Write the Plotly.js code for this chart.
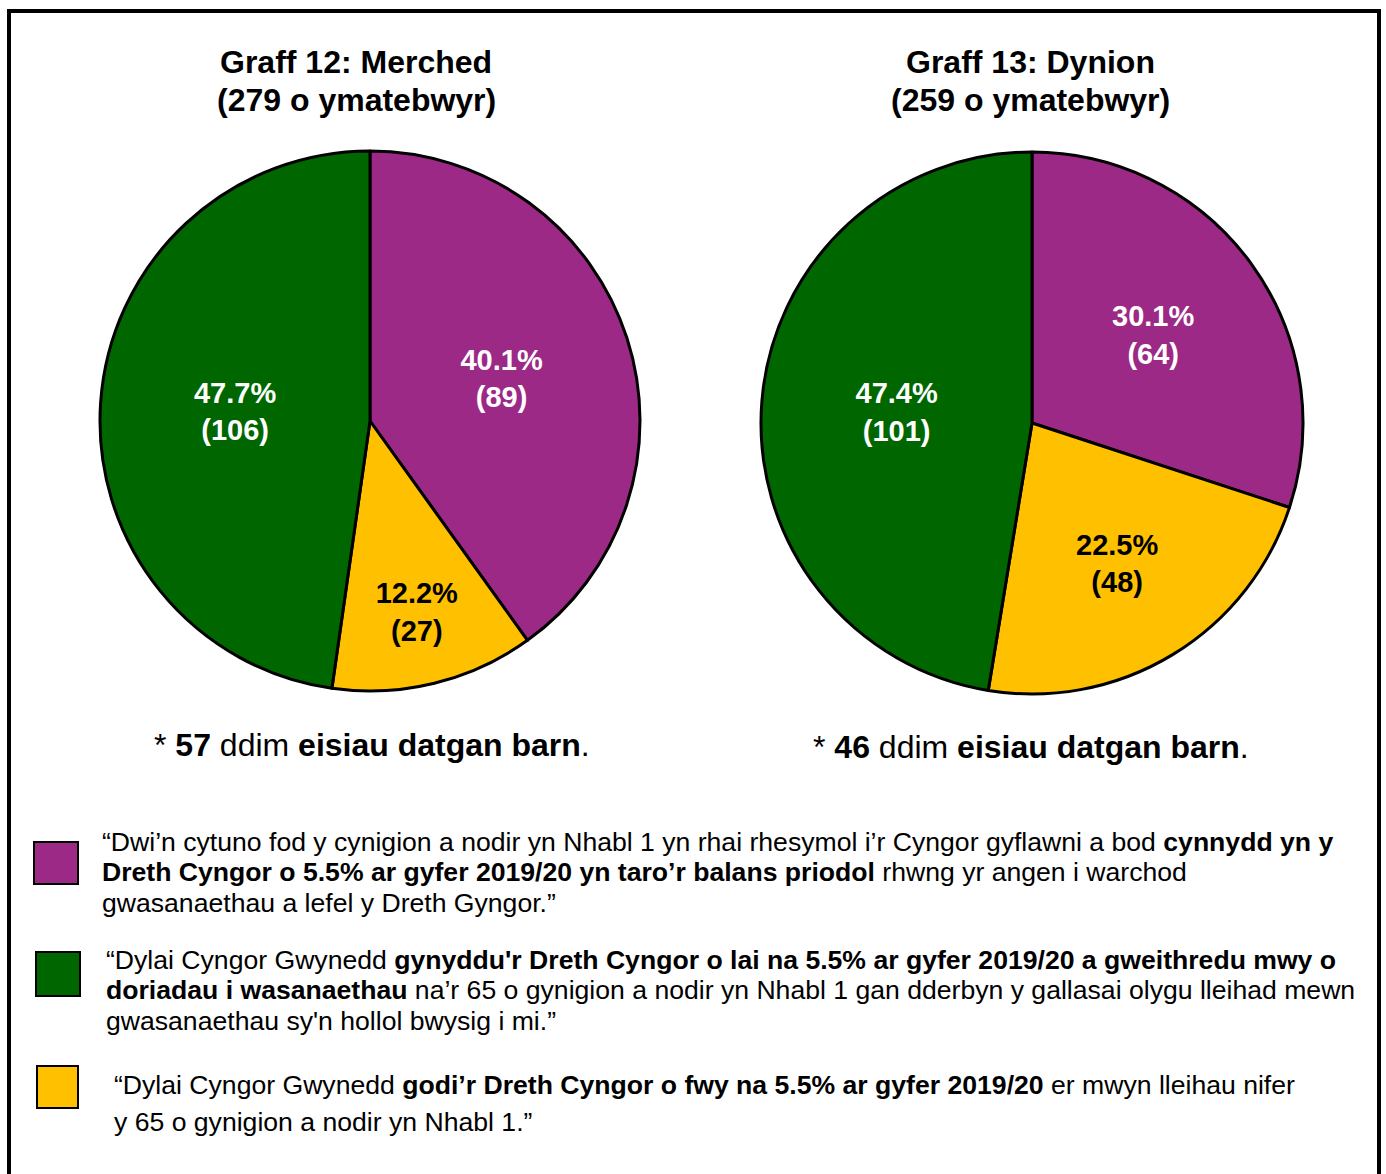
<!DOCTYPE html>
<html>
<head>
<meta charset="utf-8">
<script src="https://cdn.plot.ly/plotly-3.0.1.min.js"></script>
<style>html,body{margin:0;padding:0;background:#fff;}#chart{width:1386px;height:1174px;}</style>
</head>
<body>
<div id="chart"></div>
<script>
// ---- data ----
const categories = ["Cytuno (5.5%)", "Llai na 5.5%", "Mwy na 5.5%"];
const sliceOrder = ["Cytuno (5.5%)", "Mwy na 5.5%", "Llai na 5.5%"];
const merchedCounts = [89, 27, 106];
const merchedPct = ["40.1%", "12.2%", "47.7%"];
const dynionCounts = [64, 48, 101];
const dynionPct = ["30.1%", "22.5%", "47.4%"];
const chartTitles = ["Graff 12: Merched", "Graff 13: Dynion"];
const respondents = [279, 259];
const noOpinion = [57, 46];
const sliceColors = ["#9C2985", "#FFC000", "#006600"];
const labelColors = ["#ffffff", "#000000", "#ffffff"];

const legendLines = [
  ["“Dwi’n cytuno fod y cynigion a nodir yn Nhabl 1 yn rhai rhesymol i’r Cyngor gyflawni a bod <b>cynnydd yn y</b>",
   "<b>Dreth Cyngor o 5.5% ar gyfer 2019/20 yn taro’r balans priodol</b> rhwng yr angen i warchod",
   "gwasanaethau a lefel y Dreth Gyngor.”"],
  ["“Dylai Cyngor Gwynedd <b>gynyddu'r Dreth Cyngor o lai na 5.5% ar gyfer 2019/20 a gweithredu mwy o</b>",
   "<b>doriadau i wasanaethau</b> na’r 65 o gynigion a nodir yn Nhabl 1 gan dderbyn y gallasai olygu lleihad mewn",
   "gwasanaethau sy'n hollol bwysig i mi.”"],
  ["“Dylai Cyngor Gwynedd <b>godi’r Dreth Cyngor o fwy na 5.5% ar gyfer 2019/20</b> er mwyn lleihau nifer",
   "y 65 o gynigion a nodir yn Nhabl 1.”"]
];
const legendColors = ["#9C2985", "#006600", "#FFC000"];

// ---- layout helpers (pixel -> paper) ----
const W = 1386, H = 1174;
const px = x => x / W;
const py = y => 1 - y / H;
const FONT = "Liberation Sans, Arial, sans-serif";

function pieTrace(counts, pct, cx, cy, r) {
  return {
    type: "pie",
    labels: sliceOrder,
    values: counts,
    text: pct,
    sort: false,
    direction: "clockwise",
    rotation: 0,
    marker: {colors: sliceColors, line: {color: "#000", width: 3}},
    texttemplate: "<b>%{text}<br>(%{value})</b>",
    textposition: "inside",
    insidetextorientation: "horizontal",
    textfont: {family: FONT, size: 29, color: labelColors},
    hoverinfo: "label+value+percent",
    domain: {x: [px(cx - r), px(cx + r)], y: [py(cy + r), py(cy - r)]},
    showlegend: false
  };
}

const data = [
  pieTrace(merchedCounts, merchedPct, 370, 421, 270),
  pieTrace(dynionCounts, dynionPct, 1032, 423, 271)
];

const annotations = [];
const titleX = [356, 1030];
const footX = [372, 1031];
const footY = [745, 747];
for (let i = 0; i < 2; i++) {
  annotations.push({
    xref: "paper", yref: "paper", x: px(titleX[i]), y: py(62), xanchor: "center", yanchor: "middle",
    text: "<b>" + chartTitles[i] + "</b>",
    showarrow: false, font: {family: FONT, size: 32, color: "#000"}
  });
  annotations.push({
    xref: "paper", yref: "paper", x: px(titleX[i]), y: py(100), xanchor: "center", yanchor: "middle",
    text: "<b>(" + respondents[i] + " o ymatebwyr)</b>",
    showarrow: false, font: {family: FONT, size: 32, color: "#000"}
  });
  annotations.push({
    xref: "paper", yref: "paper", x: px(footX[i]), y: py(footY[i]), xanchor: "center", yanchor: "middle",
    text: "* <b>" + noOpinion[i] + "</b> ddim <b>eisiau datgan barn</b>.",
    showarrow: false, font: {family: FONT, size: 32, color: "#000"}
  });
}

const lineX = [100, 104, 112];
const lineY = [[842, 872, 903], [960, 990, 1021], [1085, 1122]];
legendLines.forEach((lines, i) => {
  lines.forEach((t, j) => {
    annotations.push({
      xref: "paper", yref: "paper", x: px(lineX[i]), y: py(lineY[i][j]), xanchor: "left", yanchor: "middle",
      text: t, showarrow: false, align: "left", font: {family: FONT, size: 26.6, color: "#000"}
    });
  });
});

const boxes = [[34, 842, 78, 884], [36, 952, 80, 996], [37, 1066, 78, 1108]];
const shapes = [{
  type: "rect", xref: "paper", yref: "paper",
  x0: px(9), x1: px(1379), y0: py(1190), y1: py(11),
  line: {color: "#000", width: 4}, fillcolor: "rgba(0,0,0,0)"
}];
boxes.forEach((b, i) => {
  shapes.push({
    type: "rect", xref: "paper", yref: "paper",
    x0: px(b[0]), x1: px(b[2]), y0: py(b[3]), y1: py(b[1]),
    line: {color: "#000", width: 2}, fillcolor: legendColors[i]
  });
});

const layout = {
  width: W, height: H,
  margin: {l: 0, r: 0, t: 0, b: 0},
  paper_bgcolor: "#fff",
  font: {family: FONT},
  showlegend: false,
  uniformtext: {mode: "show", minsize: 29},
  annotations: annotations,
  shapes: shapes
};

Plotly.newPlot("chart", data, layout, {staticPlot: true});
</script>
</body>
</html>
